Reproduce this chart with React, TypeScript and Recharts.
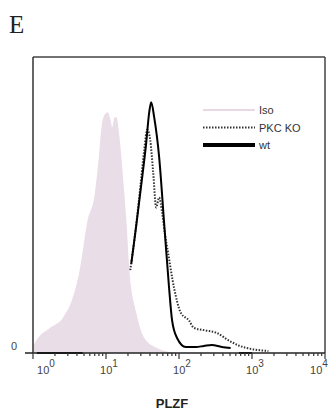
import React from 'react';
import {
  ComposedChart,
  Area,
  Line,
  XAxis,
  YAxis,
  ReferenceLine,
  Legend,
} from 'recharts';

// fluorescence (PLZF) vs. normalised cell count
const isoSignal = [1.0, 1.17, 1.7, 2.56, 3.5, 4.36, 5.6, 6.98, 7.91, 8.68, 9.55, 10.5, 11.5, 12.2, 13.1, 13.9, 15.3, 17.9, 19.0, 20.9, 26.0, 33.4, 50.2, 73, 94];
const isoCounts = [2.8, 6, 10, 14, 22, 33, 53, 63, 77, 90, 95, 96, 93, 90, 94, 94, 86, 63, 53, 33, 16, 6, 2, 0.4, 0];

const pkcSignal = [21.5, 25.2, 29.5, 33.4, 36.7, 40.3, 44.3, 48.7, 53.5, 58.7, 64.5, 70.8, 85.5, 106, 137, 160, 233, 329, 479, 655, 984, 1676];
const pkcCounts = [33, 48, 66, 81, 89, 85, 72, 58, 62, 56, 47, 40, 26, 16, 13, 10, 9, 8, 5, 3, 1.6, 0.8];

const wtSignal = [22.2, 26.0, 30.4, 35.6, 39.1, 41.6, 45.7, 53.5, 62.5, 73.1, 80.4, 94, 124, 170, 219, 281, 385, 510];
const wtCounts = [35.6, 51, 67, 84, 96, 100, 94, 78, 52, 26, 13, 6, 2.4, 2.4, 2.8, 3.2, 2.4, 2];
const wtLowSignal = [1.13, 4.8];
const wtHighSignal = [660, 1000];

const majorTicks = [1, 10, 100, 1000, 10000];
const minorSteps = [2, 3, 4, 5, 6, 7, 8, 9];

const legendItems = [
  { name: 'Iso', color: '#e8d9e4', width: 2, dash: undefined },
  { name: 'PKC KO', color: '#333', width: 2, dash: '1.5 1.5' },
  { name: 'wt', color: '#000', width: 4, dash: undefined },
];

const isoData = isoSignal.map((x, i) => ({ x, y: isoCounts[i] }));
const pkcData = pkcSignal.map((x, i) => ({ x, y: pkcCounts[i] }));
const wtData = [
  ...wtLowSignal.map((x) => ({ x, y: 0 })),
  { x: 10, y: null },
  ...wtSignal.map((x, i) => ({ x, y: wtCounts[i] })),
  { x: 600, y: null },
  ...wtHighSignal.map((x) => ({ x, y: 0 })),
];

const allTicks = [
  ...majorTicks,
  ...majorTicks.slice(0, 4).flatMap((d) => minorSteps.map((m) => m * d)),
].sort((a, b) => a - b);

const font = '"Liberation Sans", Arial, sans-serif';

// label shift per decade: first one sits right of its tick, last one is pulled in from the edge
const labelShift = (exp: number) => (exp === 0 ? 13 : exp === 4 ? -6 : 3);

const LogTick = (props: any) => {
  const { x, y, payload } = props;
  const v = payload.value;
  const exp = Math.round(Math.log10(v));
  const isMajor = Math.abs(Math.pow(10, exp) - v) < 1e-6;
  const len = isMajor ? 6 : 3;
  return (
    <g>
      <line x1={x} y1={y} x2={x} y2={y + len} stroke="#333" strokeWidth={1.2} />
      {isMajor && (
        <text x={x + labelShift(exp)} y={y + 21} textAnchor="middle" fontFamily={font} fontSize={11} fill="#444">
          10
          <tspan dy={-7} fontSize={10}>{exp}</tspan>
        </text>
      )}
    </g>
  );
};

const ZeroTick = (props: any) => {
  const { x, y, payload } = props;
  return (
    <text x={x} y={y - 3} textAnchor="end" fontFamily={font} fontSize={11} fill="#444">
      {payload.value}
    </text>
  );
};

const renderLegend = () => (
  <svg width={120} height={50}>
    {legendItems.map((it, i) => (
      <g key={it.name}>
        <line
          x1={3}
          x2={55}
          y1={10 + i * 17.5}
          y2={10 + i * 17.5}
          stroke={it.color}
          strokeWidth={it.width}
          strokeDasharray={it.dash}
        />
        <text x={59} y={14 + i * 17.5} fontFamily={font} fontSize={11} fill="#333">
          {it.name}
        </text>
      </g>
    ))}
  </svg>
);

export default function App() {
  return (
    <div style={{ position: 'absolute', left: 0, top: 0, width: 329, height: 414, background: '#fff' }}>
      <div
        style={{
          position: 'absolute',
          left: 9,
          top: 10,
          fontFamily: '"Liberation Serif", "Times New Roman", serif',
          fontSize: 25,
          lineHeight: '30px',
          color: '#222',
        }}
      >
        E
      </div>
      <ComposedChart width={329} height={414} margin={{ top: 57, right: 4, bottom: 0, left: 0 }}>
        <XAxis
          dataKey="x"
          type="number"
          scale="log"
          domain={[1, 10000]}
          allowDataOverflow
          ticks={allTicks}
          interval={0}
          tick={<LogTick />}
          tickLine={false}
          tickSize={0}
          tickMargin={0}
          height={61}
          axisLine={{ stroke: '#222', strokeWidth: 1.5 }}
          label={{
            value: 'PLZF',
            position: 'insideBottom',
            offset: 6,
            dx: -7,
            style: { fontFamily: font, fontSize: 13, fontWeight: 'bold', fill: '#222' },
          }}
        />
        <YAxis
          type="number"
          domain={[0, 118]}
          ticks={[0]}
          width={33}
          tickSize={8}
          tickMargin={8}
          tick={<ZeroTick />}
          tickLine={{ stroke: '#222', strokeWidth: 1.5 }}
          axisLine={{ stroke: '#333', strokeWidth: 1.5 }}
        />
        <ReferenceLine y={118} stroke="#444" strokeWidth={1.5} />
        <ReferenceLine x={10000} stroke="#444" strokeWidth={1.5} />
        <Area
          data={isoData}
          dataKey="y"
          type="monotone"
          fill="#e9dde7"
          fillOpacity={1}
          stroke="none"
          isAnimationActive={false}
        />
        <Line
          data={pkcData}
          dataKey="y"
          type="monotone"
          stroke="#333"
          strokeWidth={2}
          strokeDasharray="1.5 1.5"
          dot={false}
          isAnimationActive={false}
        />
        <Line
          data={wtData}
          dataKey="y"
          type="monotone"
          stroke="#000"
          strokeWidth={2}
          dot={false}
          connectNulls={false}
          isAnimationActive={false}
        />
        <Legend
          layout="horizontal"
          verticalAlign="middle"
          align="center"
          content={renderLegend}
          wrapperStyle={{ position: 'absolute', left: 200, top: 100, width: 120, height: 50 }}
        />
      </ComposedChart>
    </div>
  );
}
